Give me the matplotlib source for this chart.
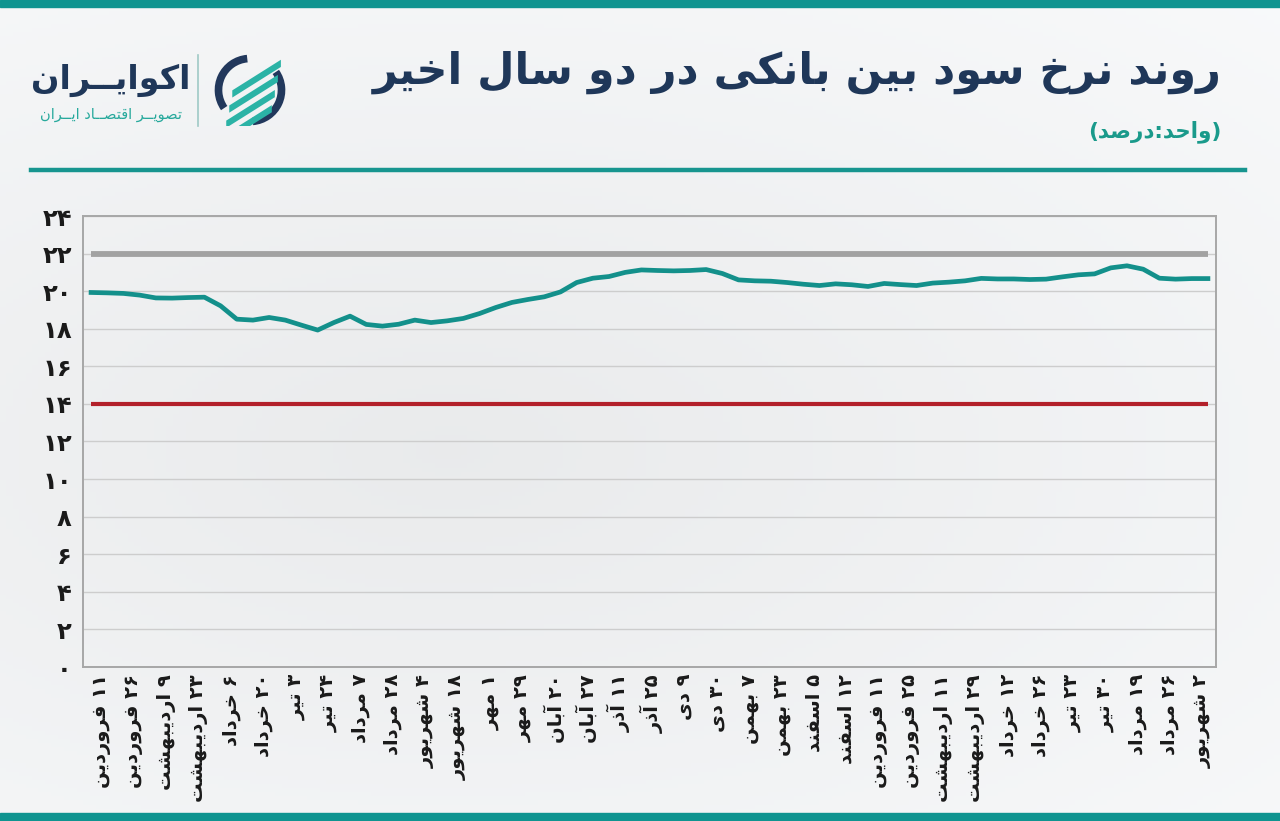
import re
import numpy as np
import matplotlib
matplotlib.use("Agg")
import matplotlib.pyplot as plt
from matplotlib.patches import Rectangle, Arc, Polygon

# ---------------- data ----------------
title = "روند نرخ سود بین بانکی در دو سال اخیر"
subtitle = "(واحد:درصد)"
brand = "اکوایــران"
brand_sub = "تصویــر اقتصــاد ایــران"

rates = [19.93, 19.91, 19.88, 19.79, 19.64, 19.63, 19.66, 19.68, 19.22, 18.51,
         18.46, 18.60, 18.46, 18.19, 17.93, 18.33, 18.67, 18.23, 18.14, 18.24,
         18.46, 18.33, 18.42, 18.55, 18.81, 19.13, 19.40, 19.56, 19.70, 19.96,
         20.46, 20.69, 20.78, 21.00, 21.13, 21.10, 21.08, 21.10, 21.15, 20.94,
         20.60, 20.55, 20.53, 20.46, 20.37, 20.30, 20.39, 20.34, 20.25, 20.41,
         20.35, 20.30, 20.43, 20.48, 20.55, 20.68, 20.65, 20.65, 20.62, 20.64,
         20.76, 20.87, 20.92, 21.24, 21.35, 21.17, 20.69, 20.64, 20.67, 20.67]
upper_band = 22
lower_band = 14

date_labels = ["۱۱ فروردین", "۲۶ فروردین", "۹ اردیبهشت", "۲۳ اردیبهشت", "۶ خرداد",
               "۲۰ خرداد", "۳ تیر", "۲۴ تیر", "۷ مرداد", "۲۸ مرداد", "۴ شهریور",
               "۱۸ شهریور", "۱ مهر", "۲۹ مهر", "۲۰ آبان", "۲۷ آبان", "۱۱ آذر",
               "۲۵ آذر", "۹ دی", "۳۰ دی", "۷ بهمن", "۲۳ بهمن", "۵ اسفند",
               "۱۲ اسفند", "۱۱ فروردین", "۲۵ فروردین", "۱۱ اردیبهشت",
               "۲۹ اردیبهشت", "۱۲ خرداد", "۲۶ خرداد", "۲۳ تیر", "۳۰ تیر",
               "۱۹ مرداد", "۲۶ مرداد", "۲ شهریور"]
y_ticks = list(range(0, 25, 2))

# ---------------- Persian shaping ----------------
FORMS = {
    'ا': ('\uFE8D', '\uFE8E'), 'آ': ('\uFE81', '\uFE82'),
    'ب': ('\uFE8F', '\uFE90', '\uFE91', '\uFE92'),
    'پ': ('\uFB56', '\uFB57', '\uFB58', '\uFB59'),
    'ت': ('\uFE95', '\uFE96', '\uFE97', '\uFE98'),
    'ث': ('\uFE99', '\uFE9A', '\uFE9B', '\uFE9C'),
    'ج': ('\uFE9D', '\uFE9E', '\uFE9F', '\uFEA0'),
    'چ': ('\uFB7A', '\uFB7B', '\uFB7C', '\uFB7D'),
    'ح': ('\uFEA1', '\uFEA2', '\uFEA3', '\uFEA4'),
    'خ': ('\uFEA5', '\uFEA6', '\uFEA7', '\uFEA8'),
    'د': ('\uFEA9', '\uFEAA'), 'ذ': ('\uFEAB', '\uFEAC'),
    'ر': ('\uFEAD', '\uFEAE'), 'ز': ('\uFEAF', '\uFEB0'),
    'ژ': ('\uFB8A', '\uFB8B'),
    'س': ('\uFEB1', '\uFEB2', '\uFEB3', '\uFEB4'),
    'ش': ('\uFEB5', '\uFEB6', '\uFEB7', '\uFEB8'),
    'ص': ('\uFEB9', '\uFEBA', '\uFEBB', '\uFEBC'),
    'ض': ('\uFEBD', '\uFEBE', '\uFEBF', '\uFEC0'),
    'ط': ('\uFEC1', '\uFEC2', '\uFEC3', '\uFEC4'),
    'ظ': ('\uFEC5', '\uFEC6', '\uFEC7', '\uFEC8'),
    'ع': ('\uFEC9', '\uFECA', '\uFECB', '\uFECC'),
    'غ': ('\uFECD', '\uFECE', '\uFECF', '\uFED0'),
    'ف': ('\uFED1', '\uFED2', '\uFED3', '\uFED4'),
    'ق': ('\uFED5', '\uFED6', '\uFED7', '\uFED8'),
    'ک': ('\uFB8E', '\uFB8F', '\uFB90', '\uFB91'),
    'گ': ('\uFB92', '\uFB93', '\uFB94', '\uFB95'),
    'ل': ('\uFEDD', '\uFEDE', '\uFEDF', '\uFEE0'),
    'م': ('\uFEE1', '\uFEE2', '\uFEE3', '\uFEE4'),
    'ن': ('\uFEE5', '\uFEE6', '\uFEE7', '\uFEE8'),
    'ه': ('\uFEE9', '\uFEEA', '\uFEEB', '\uFEEC'),
    'و': ('\uFEED', '\uFEEE'),
    'ی': ('\uFBFC', '\uFBFD', '\uFBFE', '\uFBFF'),
}
TATWEEL = '\u0640'


def _dual(c):
    return c == TATWEEL or (c in FORMS and len(FORMS[c]) == 4)


def _letter(c):
    return c == TATWEEL or c in FORMS


def fa(s):
    out = []
    for i, c in enumerate(s):
        if c not in FORMS:
            out.append(c)
            continue
        prev = s[i - 1] if i > 0 else ''
        nxt = s[i + 1] if i + 1 < len(s) else ''
        cp = prev != '' and _dual(prev)
        cn = len(FORMS[c]) == 4 and nxt != '' and _letter(nxt)
        f = FORMS[c]
        if cp and cn:
            g = f[3]
        elif cp:
            g = f[1]
        elif cn:
            g = f[2]
        else:
            g = f[0]
        out.append(g)
    t = ''.join(out)[::-1]
    t = re.sub(r'[0-9\u06F0-\u06F9]+', lambda m: m.group(0)[::-1], t)
    return ''.join({'(': ')', ')': '('}.get(ch, ch) for ch in t)


def fa_num(n):
    return str(n).translate(str.maketrans('0123456789', '۰۱۲۳۴۵۶۷۸۹'))


# ---------------- figure ----------------
W, H = 1280, 821
fig = plt.figure(figsize=(W / 100, H / 100), dpi=100)
plt.rcParams['font.family'] = ['DejaVu Sans']


def fx(px):
    return px / W


def fy(py):
    return 1 - py / H


# background gradient
bg = fig.add_axes([0, 0, 1, 1], zorder=-10)
yy, xx = np.mgrid[0:1:200j, 0:1:200j]
d = np.sqrt(((xx - 0.35) * 1.0) ** 2 + ((yy - 0.55) * 1.3) ** 2)
shade = 0.92 + 0.06 * np.clip(d, 0, 1)
img = np.dstack([shade * 0.995, shade * 1.0, shade * 1.005])
bg.imshow(np.clip(img, 0, 1), extent=[0, 1, 0, 1], aspect='auto', origin='upper')
bg.set_axis_off()

teal = '#0f9490'
fig.patches.append(Rectangle((0, fy(7)), 1, 7 / H, transform=fig.transFigure,
                             color=teal, zorder=5))
fig.patches.append(Rectangle((0, 0), 1, 8 / H, transform=fig.transFigure,
                             color=teal, zorder=5))
fig.lines.append(plt.Line2D([fx(31), fx(1245)], [fy(170), fy(170)],
                            transform=fig.transFigure, color='#17958f', lw=3.2))

# titles
fig.text(fx(1222), fy(72), fa(title), ha='right', va='center', fontsize=31,
         fontweight='bold', color='#1f3759')
fig.text(fx(1222), fy(132), fa(subtitle), ha='right', va='center', fontsize=15.5,
         fontweight='bold', color='#1a9a8b')

# logo
fig.text(fx(111), fy(80), fa(brand), ha='center', va='center', fontsize=24,
         fontweight='bold', color='#1f3759')
fig.text(fx(111), fy(115), fa(brand_sub), ha='center', va='center', fontsize=10.5,
         color='#27a99c')
fig.lines.append(plt.Line2D([fx(198), fx(198)], [fy(55), fy(126)],
                            transform=fig.transFigure, color='#9fc9c6', lw=1.2))
ic = fig.add_axes([fx(214), fy(126), 72 / W, 72 / H])
ic.set_xlim(-1, 1)
ic.set_ylim(-1, 1)
ic.set_axis_off()
ic.add_patch(Arc((0, 0), 1.75, 1.75, theta1=95, theta2=215, lw=5.5, color='#22385c'))
ic.add_patch(Arc((0, 0), 1.75, 1.75, theta1=275, theta2=395, lw=5.5, color='#22385c'))
for k in range(4):
    o = -0.72 + k * 0.42
    ic.add_patch(Polygon([(-0.6 + o * 0.2, -0.75 + o), (0.75 + o * 0.2, 0.1 + o),
                          (0.75 + o * 0.2, 0.3 + o), (-0.6 + o * 0.2, -0.55 + o)],
                         closed=True, color='#2bb3a6', lw=0))

# ---------------- chart ----------------
ax = fig.add_axes([fx(83), fy(667), (1216 - 83) / W, (667 - 216) / H])
ax.set_facecolor('none')
x = np.arange(len(rates))
ax.plot(x, np.full(len(x), upper_band), color='#a2a2a2', lw=4.2,
        solid_capstyle='butt', zorder=3)
ax.plot(x, np.full(len(x), lower_band), color='#b3202a', lw=3.0,
        solid_capstyle='butt', zorder=3)
ax.plot(x, rates, color='#13908b', lw=3.4, solid_joinstyle='round', zorder=4)

ax.set_xlim(-0.5, len(rates) - 0.5)
ax.set_ylim(0, 24)
ax.set_yticks(y_ticks, [fa_num(v) for v in y_ticks], fontsize=17.5,
              fontweight='bold', color='#1a1a1a')
tick_pos = np.arange(1, len(rates), 2) - 0.35
ax.set_xticks(tick_pos, [fa(l) for l in date_labels], rotation=90,
              fontsize=14, fontweight='bold', color='#1a1a1a')
ax.tick_params(axis='both', length=0)
ax.tick_params(axis='y', pad=8)
ax.tick_params(axis='x', pad=5)
ax.grid(axis='y', color='#cdcdcd', lw=1.0, zorder=0)
ax.set_axisbelow(True)
for s in ax.spines.values():
    s.set_color('#a7a7a7')
    s.set_linewidth(1.4)

fig.savefig('out.png', dpi=100)
